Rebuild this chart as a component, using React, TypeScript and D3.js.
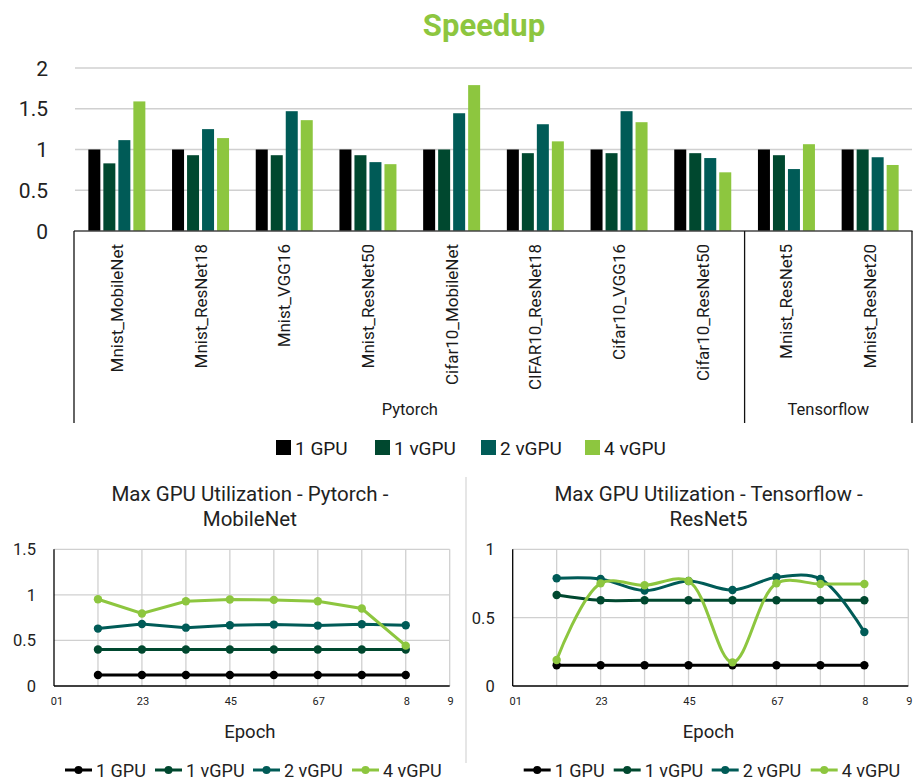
import React from 'react';
import * as d3 from 'd3';

// speedup chart data
const categories = [
  'Mnist_MobileNet', 'Mnist_ResNet18', 'Mnist_VGG16', 'Mnist_ResNet50', 'Cifar10_MobileNet',
  'CIFAR10_ResNet18', 'Cifar10_VGG16', 'Cifar10_ResNet50', 'Mnist_ResNet5', 'Mnist_ResNet20',
];
const frameworks = [
  { name: 'Pytorch', from: 0, to: 8 },
  { name: 'Tensorflow', from: 8, to: 10 },
];
const seriesNames = ['1 GPU', '1 vGPU', '2 vGPU', '4 vGPU'];
const speedup1GPU = [1, 1, 1, 1, 1, 1, 1, 1, 1, 1];
const speedup1vGPU = [0.83, 0.93, 0.93, 0.93, 1.0, 0.955, 0.955, 0.955, 0.93, 1.0];
const speedup2vGPU = [1.115, 1.25, 1.47, 0.845, 1.445, 1.31, 1.47, 0.895, 0.76, 0.905];
const speedup4vGPU = [1.59, 1.14, 1.36, 0.82, 1.79, 1.1, 1.335, 0.72, 1.065, 0.81];
const speedupTicks = [0, 0.5, 1, 1.5, 2];

// utilization data
const epochs = [1, 2, 3, 4, 5, 6, 7, 8];
const epochTickPos = [0, 2, 4, 6, 8, 9];
const epochTickLabels = ['01', '23', '45', '67', '8', '9'];

const pt1GPU = [0.12, 0.12, 0.12, 0.12, 0.12, 0.12, 0.12, 0.12];
const pt1vGPU = [0.4, 0.4, 0.4, 0.4, 0.4, 0.4, 0.4, 0.4];
const pt2vGPU = [0.63, 0.68, 0.64, 0.667, 0.674, 0.663, 0.678, 0.667];
const pt4vGPU = [0.952, 0.795, 0.93, 0.949, 0.945, 0.93, 0.85, 0.443];
const ptTicks = [0, 0.5, 1, 1.5];

const tf1GPU = [0.152, 0.152, 0.152, 0.152, 0.152, 0.152, 0.152, 0.152];
const tf1vGPU = [0.666, 0.627, 0.627, 0.627, 0.627, 0.627, 0.627, 0.627];
const tf2vGPU = [0.788, 0.783, 0.698, 0.768, 0.702, 0.795, 0.783, 0.395];
const tf4vGPU = [0.19, 0.751, 0.737, 0.768, 0.173, 0.751, 0.746, 0.746];
const tfTicks = [0, 0.5, 1];

const colors = ['#000000', '#00482F', '#005B57', '#8DC63F'];
const font = 'Roboto, "DejaVu Sans", sans-serif';
const grid = '#d0d0d0';

function SpeedupChart() {
  const values = [speedup1GPU, speedup1vGPU, speedup2vGPU, speedup4vGPU];
  const x = d3.scaleBand<string>().domain(categories).range([75, 912]);
  const step = x.step();
  const inner = d3.scaleBand<string>().domain(seriesNames).range([-28.5, 28.5]).paddingInner(0.2);
  const y = d3.scaleLinear().domain([0, 2]).range([231, 68]);
  const axisBottom = 423;
  const edge = (i: number) => 75 + i * step;

  return (
    <g fontFamily={font}>
      <text x={484} y={36} textAnchor="middle" fontSize={31} fontWeight="bold" fill="#8DC63F">Speedup</text>
      {speedupTicks.map((t) => (
        <g key={t}>
          {t > 0 && <line x1={75} x2={912} y1={y(t)} y2={y(t)} stroke={grid} strokeWidth={1.5} />}
          <text x={48} y={y(t)} dy="0.36em" textAnchor="end" fontSize={21} fill="#222">{t}</text>
        </g>
      ))}
      {categories.map((c, ci) => (
        <g key={c} transform={`translate(${x(c)! + step / 2},0)`}>
          {seriesNames.map((s, si) => (
            <rect key={s} x={inner(s)} width={inner.bandwidth()} y={y(values[si][ci])}
              height={y(0) - y(values[si][ci])} fill={colors[si]} />
          ))}
          <text transform={`translate(0,244) rotate(-90)`} textAnchor="end" dominantBaseline="central"
            fontSize={17} fill="#1a1a1a">{c}</text>
        </g>
      ))}
      <line x1={74} x2={912.5} y1={y(0)} y2={y(0)} stroke="#444" strokeWidth={1.5} />
      {[0, 8, 10].map((i) => (
        <line key={i} x1={edge(i) - (i === 0 ? 1 : 0)} x2={edge(i) - (i === 0 ? 1 : 0)} y1={y(0)} y2={axisBottom}
          stroke="#111" strokeWidth={1.3} />
      ))}
      {frameworks.map((f) => (
        <text key={f.name} x={(edge(f.from) + edge(f.to)) / 2} y={415} textAnchor="middle" fontSize={16.5} fill="#1a1a1a">
          {f.name}
        </text>
      ))}
      {seriesNames.map((s, i) => {
        const lx = [276, 375, 481, 585][i];
        return (
          <g key={s}>
            <rect x={lx} y={440} width={15} height={15} fill={colors[i]} />
            <text x={lx + 19} y={454.5} fontSize={19} fill="#1a1a1a">{s}</text>
          </g>
        );
      })}
    </g>
  );
}

type LineProps = {
  left: number;
  right: number;
  yMax: number;
  ticks: number[];
  series: number[][];
  titleLines: string[];
  smooth: boolean;
};

function UtilChart({ left, right, yMax, ticks, series, titleLines, smooth }: LineProps) {
  const x = d3.scaleLinear().domain([0, 9]).range([left, right]);
  const y = d3.scaleLinear().domain([0, yMax]).range([686, 549.3]);
  const line = d3.line<number>()
    .x((_, i) => x(epochs[i]))
    .y((d) => y(d))
    .curve(smooth ? d3.curveCatmullRom.alpha(0.5) : d3.curveLinear);
  const center = (left + right) / 2;
  const legendOffsets = [11, 101, 199, 298];

  return (
    <g fontFamily={font}>
      {titleLines.map((t, i) => (
        <text key={i} x={center - 2} y={500.5 + i * 25.5} textAnchor="middle" fontSize={20.5} fill="#222">{t}</text>
      ))}
      {d3.range(1, 10).map((v) => (
        <line key={v} x1={x(v)} x2={x(v)} y1={y(yMax)} y2={y(0)} stroke={grid} strokeWidth={1.3} />
      ))}
      {ticks.map((t) => (
        <g key={t}>
          {t > 0 && <line x1={left} x2={right} y1={y(t)} y2={y(t)} stroke={grid} strokeWidth={1.3} />}
          <text x={left - 18} y={y(t)} dy="0.36em" textAnchor="end" fontSize={16.5} fill="#222">{t}</text>
        </g>
      ))}
      <line x1={left} x2={left} y1={y(yMax)} y2={y(0)} stroke="#000" strokeWidth={1.3} />
      <line x1={left} x2={right} y1={y(0)} y2={y(0)} stroke="#000" strokeWidth={1.3} />
      {epochTickPos.map((p, i) => (
        <text key={p} x={x(p) + (i === 0 ? 3 : 1)} y={705} textAnchor="middle" fontSize={11} fill="#222">
          {epochTickLabels[i]}
        </text>
      ))}
      <text x={center - 2} y={738} textAnchor="middle" fontSize={18.5} fill="#222">Epoch</text>
      {series.map((s, si) => (
        <g key={si}>
          <path d={line(s) ?? ''} fill="none" stroke={colors[si]} strokeWidth={3} />
          {s.map((v, i) => (
            <circle key={i} cx={x(epochs[i])} cy={y(v)} r={4.2} fill={colors[si]} />
          ))}
        </g>
      ))}
      {seriesNames.map((n, i) => {
        const lx = left + legendOffsets[i];
        return (
          <g key={n}>
            <line x1={lx} x2={lx + 27} y1={770} y2={770} stroke={colors[i]} strokeWidth={3} />
            <circle cx={lx + 13.5} cy={770} r={4} fill={colors[i]} />
            <text x={lx + 31} y={777} fontSize={18} fill="#222">{n}</text>
          </g>
        );
      })}
    </g>
  );
}

export default function App() {
  return (
    <svg width={919} height={780} style={{ position: 'absolute', left: 0, top: 0, background: '#fff' }}>
      <rect width={919} height={780} fill="#fff" />
      <SpeedupChart />
      <line x1={466} x2={466} y1={477} y2={763} stroke="#d9d9d9" strokeWidth={1.3} />
      <UtilChart left={54} right={449.7} yMax={1.5} ticks={ptTicks}
        series={[pt1GPU, pt1vGPU, pt2vGPU, pt4vGPU]}
        titleLines={['Max GPU Utilization - Pytorch -', 'MobileNet']} smooth={false} />
      <UtilChart left={512.7} right={908.3} yMax={1} ticks={tfTicks}
        series={[tf1GPU, tf1vGPU, tf2vGPU, tf4vGPU]}
        titleLines={['Max GPU Utilization - Tensorflow -', 'ResNet5']} smooth={true} />
    </svg>
  );
}
